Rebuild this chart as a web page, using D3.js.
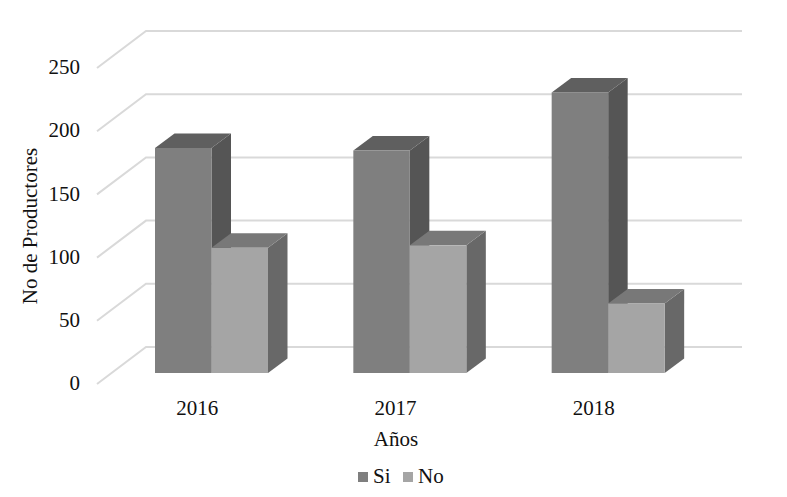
<!DOCTYPE html>
<html><head><meta charset="utf-8">
<script src="https://cdn.jsdelivr.net/npm/d3@7/dist/d3.min.js"></script>
<style>html,body{margin:0;background:#fff}svg{display:block}text{font-family:"Liberation Serif",serif;fill:#111}</style>
</head><body><script>
const categories=["2016","2017","2018"];
const seriesNames=["Si","No"];
const si=[178,176,222];
const no=[99,101,55];
const yTicks=[0,50,100,150,200,250];

const W=787,H=497;
const svg=d3.select("body").append("svg").attr("width",W).attr("height",H);
const fs=21;
// wall depth (floor front edge to back wall) and bar depth
const wall={dx:49,dy:-37}, depth={dx:19.5,dy:-14.5};
const yBack=d3.scaleLinear().domain([0,250]).range([347,31]);
const yFront=yBack.copy().range([384,68]);
const yBar=yBack.copy().range([373,57]);
const x=d3.scaleBand().domain(categories).range([97,692]);
const barInset=58;
const sub=d3.scaleBand().domain(seriesNames).range([barInset,barInset+113]);

// gridlines
const grid=svg.append("g").attr("stroke","#d9d9d9").attr("stroke-width",2).attr("fill","none");
yTicks.forEach(t=>{
  grid.append("path").attr("d",d3.line()([[x.range()[0],yFront(t)],[x.range()[0]+wall.dx,yBack(t)],[742,yBack(t)]]));
});

// axis labels
const yAxis=d3.axisLeft(yFront).tickValues(yTicks).tickSize(0).tickPadding(17);
const ya=svg.append("g").attr("transform",`translate(97,-1)`).call(yAxis);
ya.select(".domain").remove();
ya.selectAll("text").attr("font-size",fs).style("font-family",'"Liberation Serif",serif').style("fill","#111");
const xAxis=d3.axisBottom(x).tickSize(0).tickPadding(0);
const xa=svg.append("g").attr("transform",`translate(1,400)`).call(xAxis);
xa.select(".domain").remove();
xa.selectAll("text").attr("font-size",fs).style("font-family",'"Liberation Serif",serif').style("fill","#111");

// bars
const colors={Si:{front:"#7f7f7f",top:"#5f5f5f",side:"#555555"},No:{front:"#a5a5a5",top:"#787878",side:"#686868"}};
const rows=[];
categories.forEach((c,i)=>{rows.push({c,s:"Si",v:si[i]});rows.push({c,s:"No",v:no[i]});});
const bars=svg.append("g").selectAll("g").data(rows).join("g");
bars.each(function(d){
  const g=d3.select(this),x0=x(d.c)+sub(d.s),x1=x0+sub.bandwidth(),y0=yBar(0),y1=yBar(d.v),col=colors[d.s];
  const {dx,dy}=depth;
  g.append("path").attr("fill",col.side).attr("d",d3.line()([[x1,y1],[x1+dx,y1+dy],[x1+dx,y0+dy],[x1,y0]])+"Z");
  g.append("path").attr("fill",col.top).attr("d",d3.line()([[x0,y1],[x0+dx,y1+dy],[x1+dx,y1+dy],[x1,y1]])+"Z");
  g.append("rect").attr("fill",col.front).attr("x",x0).attr("y",y1).attr("width",x1-x0).attr("height",y0-y1);
});

// titles
svg.append("text").attr("x",396).attr("y",446).attr("text-anchor","middle").attr("font-size",fs).text("Años");
svg.append("text").attr("transform","translate(37,226) rotate(-90)").attr("text-anchor","middle").attr("font-size",fs).text("No de Productores");

// legend
const legendX=[358,403];
seriesNames.forEach((s,i)=>{
  svg.append("rect").attr("x",legendX[i]).attr("y",472).attr("width",10).attr("height",10).attr("fill",colors[s].front);
  svg.append("text").attr("x",legendX[i]+15).attr("y",483).attr("font-size",fs).text(s);
});
</script></body></html>
